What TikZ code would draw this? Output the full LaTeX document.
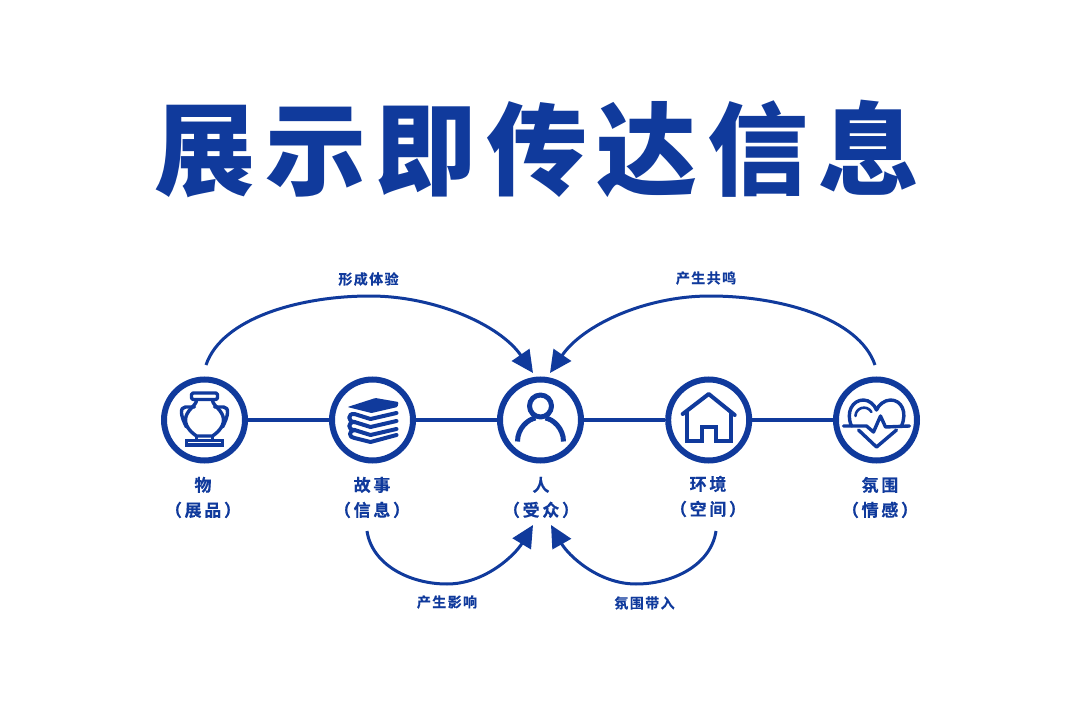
\documentclass[tikz,border=0pt]{standalone}
\usepackage{fontspec}
\usetikzlibrary{arrows.meta}
\newfontfamily\titlefont[LetterSpace=9.5]{Noto Sans CJK SC Black}
\newfontfamily\lblfont[LetterSpace=16,FakeBold=0.4]{Noto Sans CJK SC Bold}
\newfontfamily\smfont[LetterSpace=10,FakeBold=0.3]{Noto Sans CJK SC Bold}
\definecolor{ink}{HTML}{103A9C}
\tikzset{
  hub/.style={circle,draw=ink,line width=6pt,fill=white,minimum size=81pt,inner sep=0pt},
  link/.style={draw=ink,line width=4.5pt},
  arc/.style={draw=ink,line width=3pt,-{Triangle[length=22pt,width=21pt]}},
  lbl/.style={text=ink,font=\lblfont\fontsize{17pt}{25pt}\selectfont,align=center,inner sep=0pt},
  sm/.style={text=ink,font=\smfont\fontsize{14pt}{16pt}\selectfont,inner sep=0pt},
  icon/.style={draw=ink,line width=3.4pt,line join=round,line cap=round},
}
\begin{document}
\begin{tikzpicture}[x=1pt,y=-1pt]
\useasboundingbox (0,0) rectangle (1080,706);
\node[text=ink,font=\titlefont\fontsize{101pt}{101pt}\selectfont,inner sep=0pt] (title) at (537,149) {展示即传达信息};
\node[hub] (a) at (204.5,420) {};
\node[hub] (b) at (372.5,420) {};
\node[hub] (c) at (540.5,420) {};
\node[hub] (d) at (708.7,420) {};
\node[hub] (e) at (876.5,420) {};
\draw[link] (a) -- (b);
\draw[link] (b) -- (c);
\draw[link] (c) -- (d);
\draw[link] (d) -- (e);
% labels
\node[lbl] (la) at (203,497.5) {物\\（展品）};
\node[lbl] (lb) at (372,497.5) {故事\\（信息）};
\node[lbl] (lc) at (541,497.5) {人\\（受众）};
\node[lbl] (ld) at (708,496.5) {环境\\（空间）};
\node[lbl] (le) at (880,497.5) {氛围\\（情感）};
\node[sm] (s1) at (368.5,279) {形成体验};
\node[sm] (s2) at (706,278) {产生共鸣};
\node[sm] (s3) at (447,602) {产生影响};
\node[sm] (s4) at (644.5,603) {氛围带入};
% curved connectors
\coordinate (t1) at (206,365); \coordinate (h1) at (533,373);
\coordinate (t2) at (875,365); \coordinate (h2) at (550,373);
\coordinate (t3) at (367,531); \coordinate (h3) at (533,525);
\coordinate (t4) at (716,531); \coordinate (h4) at (551,525);
\draw[arc] (t1) .. controls (222,318) and (300,296) .. (370,296) .. controls (435,296) and (500,325) .. (h1);
\draw[arc] (t2) .. controls (859,318) and (780,296) .. (710,296) .. controls (645,296) and (583,325) .. (h2);
\draw[arc] (t3) .. controls (372,565) and (410,584) .. (447,584) .. controls (485,584) and (515,555) .. (h3);
\draw[arc] (t4) .. controls (711,565) and (673,584) .. (636,584) .. controls (598,584) and (568,555) .. (h4);
% vase
\begin{scope}[shift={(a.center)}]
\draw[icon,rounded corners=1.5pt] (-13,-27) rectangle (13,-20.5);
\draw[icon] (-8,-20) .. controls (-8,-14) and (-19,-10) .. (-19,0) .. controls (-19,8) and (-11,14) .. (-8,16) -- (8,16) .. controls (11,14) and (19,8) .. (19,0) .. controls (19,-10) and (8,-14) .. (8,-20);
\draw[icon] (-10,-13) -- (-19,-13) .. controls (-25,-13) and (-24,-4) .. (-18,7);
\draw[icon] (10,-13) -- (19,-13) .. controls (25,-13) and (24,-4) .. (18,7);
\draw[icon,line cap=butt,line join=miter] (-18,20.5) rectangle (18,25);
\draw[icon,line width=2.4pt] (-8,17) -- (-8,20);
\draw[icon,line width=2.4pt] (8,17) -- (8,20);
\end{scope}
% books
\begin{scope}[shift={(b.center)}]
\fill[ink,rounded corners=1pt] (-25,-13) -- (3,-22) -- (26,-18) -- (25,-13) -- (-1,-7) -- cycle;
\draw[icon,line width=4pt] (24,-7) -- (-2,-1) -- (-18,-6) .. controls (-25,-7) and (-25,2) .. (-18,2) -- (-2,7) -- (24,1);
\draw[icon,line width=4pt] (-18,2) .. controls (-25,2) and (-25,10) .. (-18,10) -- (-2,15) -- (24,9);
\draw[icon,line width=4pt] (-18,10) .. controls (-24,10) and (-24,18) .. (-18,18) -- (-2,22) -- (24,15);
\end{scope}
% person
\begin{scope}[shift={(c.center)}]
\draw[icon,line width=5pt] (0,-14) circle[radius=11];
\draw[icon,line width=5pt,line cap=butt] (-23,21.5) .. controls (-23,8) and (-12,-1) .. (-5,-2);
\draw[icon,line width=5pt,line cap=butt] (23,21.5) .. controls (23,8) and (12,-1) .. (5,-2);
\end{scope}
% house
\begin{scope}[shift={(d.center)}]
\draw[icon,line width=4pt] (-26,-6) -- (0,-26) -- (26,-5);
\draw[icon,line width=4pt,line cap=butt,line join=miter] (-22,-8) -- (-22,21) -- (-7,21) -- (-7,7) -- (7,7) -- (7,21) -- (22,21) -- (22,-8);
\end{scope}
% heart
\begin{scope}[shift={(e.center)}]
\draw[icon] (-25,6) .. controls (-31,-8) and (-24,-20) .. (-13,-20) .. controls (-7,-20) and (-2,-15) .. (0,-10) .. controls (2,-15) and (8,-20) .. (14,-20) .. controls (25,-20) and (31,-8) .. (25,6);
\draw[icon] (-18,10) -- (0,27) -- (20,10);
\draw[icon,line width=2.6pt] (-21,-4) .. controls (-21,-12) and (-10,-16) .. (-5,-8);
\draw[icon] (-33,6) -- (-10,6) -- (-3,12) -- (4,-4) -- (9,7) -- (33,6);
\end{scope}
\end{tikzpicture}
\end{document}
